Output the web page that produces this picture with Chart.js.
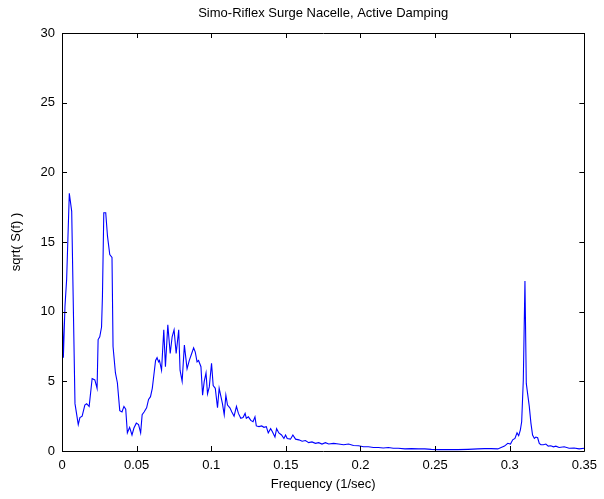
<!DOCTYPE html>
<html>
<head>
<meta charset="utf-8">
<script src="https://cdn.jsdelivr.net/npm/chart.js@4/dist/chart.umd.min.js"></script>
<style>
  html, body { margin: 0; padding: 0; background: #fff; }
  #wrap { width: 604px; height: 499px; }
</style>
</head>
<body>
<div id="wrap"><canvas id="grafico" width="604" height="499"></canvas></div>
<script>
const titulo = 'Simo-Riflex Surge Nacelle, Active Damping';

// frecuencia (1/sec)
const freq = [
  0, 0.0009, 0.002, 0.0031, 0.0049, 0.0065, 0.0087, 0.0109, 0.012, 0.0135,
  0.0153, 0.0165, 0.0182, 0.0202, 0.022, 0.0235, 0.0242, 0.0253, 0.0265, 0.0271,
  0.028, 0.0293, 0.0305, 0.032, 0.0335, 0.0342, 0.0358, 0.0371, 0.0387, 0.0402,
  0.0415, 0.0427, 0.0438, 0.0453, 0.0469, 0.0482, 0.0498, 0.0513, 0.0527, 0.0537,
  0.055, 0.0567, 0.058, 0.0593, 0.0605, 0.0615, 0.0627, 0.0637, 0.0647, 0.0653,
  0.0667, 0.0682, 0.0693, 0.0709, 0.0725, 0.0738, 0.0751, 0.0765, 0.0782, 0.0791,
  0.0805, 0.082, 0.0838, 0.0853, 0.0869, 0.0882, 0.0893, 0.0905, 0.0915, 0.0931,
  0.0942, 0.0953, 0.0965, 0.0975, 0.0987, 0.1002, 0.1013, 0.1027, 0.1042, 0.1053,
  0.1065, 0.1075, 0.1087, 0.1098, 0.1109, 0.1125, 0.1138, 0.1153, 0.1169, 0.1182,
  0.1198, 0.1213, 0.1227, 0.1235, 0.1249, 0.1265, 0.128, 0.1293, 0.1302, 0.132,
  0.1338, 0.1353, 0.1369, 0.1382, 0.1398, 0.1409, 0.1427, 0.1438, 0.1453, 0.1471,
  0.1487, 0.1498, 0.1509, 0.1531, 0.1547, 0.1565, 0.1587, 0.1609, 0.1631, 0.1653,
  0.1675, 0.1698, 0.172, 0.1742, 0.1765, 0.1787, 0.182, 0.1853, 0.1887, 0.192,
  0.1953, 0.1987, 0.202, 0.2053, 0.2087, 0.212, 0.2153, 0.2187, 0.222, 0.2253,
  0.2298, 0.2342, 0.2387, 0.2431, 0.2475, 0.252, 0.2587, 0.2653, 0.272, 0.2787,
  0.2831, 0.2875, 0.292, 0.2965, 0.2987, 0.3005, 0.302, 0.3035, 0.3049, 0.306,
  0.3071, 0.308, 0.3091, 0.3102, 0.3111, 0.312, 0.3131, 0.3142, 0.3153, 0.3165,
  0.3175, 0.3187, 0.3198, 0.3209, 0.3225, 0.3242, 0.3258, 0.3275, 0.3293, 0.3309,
  0.3331, 0.3365, 0.3398, 0.3431, 0.3465, 0.35
];

// sqrt( S(f) )
const sqrtS = [
  11.2, 6.7, 10.4, 12.3, 18.5, 17.2, 3.4, 1.9, 2.4, 2.5,
  3.3, 3.4, 3.2, 5.2, 5.1, 4.5, 8.0, 8.2, 8.9, 11.1,
  17.1, 17.1, 15.4, 14.1, 13.9, 7.5, 5.6, 4.9, 2.9, 2.8,
  3.2, 3.0, 1.3, 1.7, 1.15, 1.65, 2.0, 1.9, 1.3, 2.6,
  2.8, 3.1, 3.7, 3.9, 4.5, 5.4, 6.5, 6.7, 6.4, 6.5,
  5.8, 8.7, 6.05, 9.05, 7.0, 8.2, 8.7, 7.0, 8.7, 5.8,
  5.0, 7.6, 5.9, 6.5, 7.0, 7.4, 7.1, 6.4, 6.5, 6.05,
  4.0, 5.0, 5.6, 4.1, 4.6, 6.3, 4.7, 4.5, 3.1, 4.5,
  3.9, 3.4, 2.6, 4.0, 3.3, 3.1, 2.8, 2.5, 3.2, 2.7,
  2.35, 2.4, 2.7, 2.35, 2.45, 2.2, 2.1, 2.45, 1.8, 1.75,
  1.8, 1.7, 1.75, 1.3, 1.6, 1.4, 1.0, 1.6, 1.3, 1.15,
  0.9, 1.15, 0.9, 0.85, 1.15, 0.85, 0.8, 0.7, 0.75, 0.6,
  0.65, 0.55, 0.6, 0.5, 0.6, 0.5, 0.55, 0.5, 0.45, 0.5,
  0.4, 0.38, 0.3, 0.3, 0.25, 0.25, 0.22, 0.25, 0.2, 0.2,
  0.15, 0.17, 0.15, 0.15, 0.12, 0.1, 0.1, 0.1, 0.12, 0.15,
  0.17, 0.17, 0.15, 0.35, 0.55, 0.5, 0.8, 0.9, 1.3, 1.1,
  1.5, 2.1, 5.1, 12.2, 4.85, 4.1, 3.2, 2.0, 1.15, 0.9,
  1.0, 0.95, 0.55, 0.45, 0.45, 0.5, 0.35, 0.38, 0.3, 0.35,
  0.25, 0.3, 0.2, 0.22, 0.15, 0.2
];

const ticksX = [0, 0.05, 0.1, 0.15, 0.2, 0.25, 0.3, 0.35];
const ticksY = [0, 5, 10, 15, 20, 25, 30];

const fuente = 'Arial, "Liberation Sans", sans-serif';

// marco estilo matlab: caja negra con ticks hacia adentro
const marco = {
  id: 'marco',
  afterDatasetsDraw(chart) {
    const { ctx, chartArea: a, scales } = chart;
    ctx.save();
    ctx.strokeStyle = '#000';
    ctx.lineWidth = 1;
    ctx.beginPath();
    ctx.rect(Math.round(a.left) + 0.5, Math.round(a.top) + 0.5,
      Math.round(a.right - a.left), Math.round(a.bottom - a.top));
    ctx.stroke();
    ctx.beginPath();
    ticksX.forEach(v => {
      const x = Math.round(scales.x.getPixelForValue(v)) + 0.5;
      ctx.moveTo(x, a.bottom); ctx.lineTo(x, a.bottom - 5);
      ctx.moveTo(x, a.top); ctx.lineTo(x, a.top + 5);
    });
    ticksY.forEach(v => {
      const y = Math.round(scales.y.getPixelForValue(v)) + 0.5;
      ctx.moveTo(a.left, y); ctx.lineTo(a.left + 5, y);
      ctx.moveTo(a.right, y); ctx.lineTo(a.right - 5, y);
    });
    ctx.stroke();
    // titulo centrado sobre el area del grafico
    ctx.fillStyle = '#000';
    ctx.font = '13px ' + fuente;
    ctx.textAlign = 'center';
    ctx.textBaseline = 'middle';
    ctx.fillText(titulo, (a.left + a.right) / 2, 13);
    ctx.restore();
  }
};

const ctx = document.getElementById('grafico').getContext('2d');
new Chart(ctx, {
  type: 'line',
  data: {
    datasets: [{
      data: freq.map((f, i) => ({ x: f, y: sqrtS[i] })),
      borderColor: '#0000ff',
      borderWidth: 1.1,
      pointRadius: 0,
      tension: 0,
      fill: false
    }]
  },
  options: {
    responsive: false,
    animation: false,
    layout: { padding: { top: 33, right: 16, left: 0, bottom: 0 } },
    plugins: { legend: { display: false }, tooltip: { enabled: false } },
    scales: {
      x: {
        type: 'linear',
        min: 0, max: 0.35,
        afterFit: s => { s.height = 48; },
        afterBuildTicks: s => { s.ticks = ticksX.map(v => ({ value: v })); },
        grid: { display: false, drawTicks: false },
        border: { display: false },
        ticks: {
          padding: 7,
          color: '#000',
          maxRotation: 0,
          autoSkip: false,
          font: { family: fuente, size: 13 },
          callback: v => String(parseFloat(v.toFixed(2)))
        },
        title: {
          display: true,
          text: 'Frequency (1/sec)',
          color: '#000',
          font: { family: fuente, size: 13 },
          padding: { top: 0, bottom: 7 }
        }
      },
      y: {
        min: 0, max: 30,
        afterFit: s => { s.width = 62; },
        afterBuildTicks: s => { s.ticks = ticksY.map(v => ({ value: v })); },
        grid: { display: false, drawTicks: false },
        border: { display: false },
        ticks: {
          padding: 7,
          color: '#000',
          font: { family: fuente, size: 13 }
        },
        title: {
          display: true,
          text: 'sqrt( S(f) )',
          color: '#000',
          font: { family: fuente, size: 13 },
          padding: { top: 9, bottom: 9 }
        }
      }
    }
  },
  plugins: [marco]
});
</script>
</body>
</html>
